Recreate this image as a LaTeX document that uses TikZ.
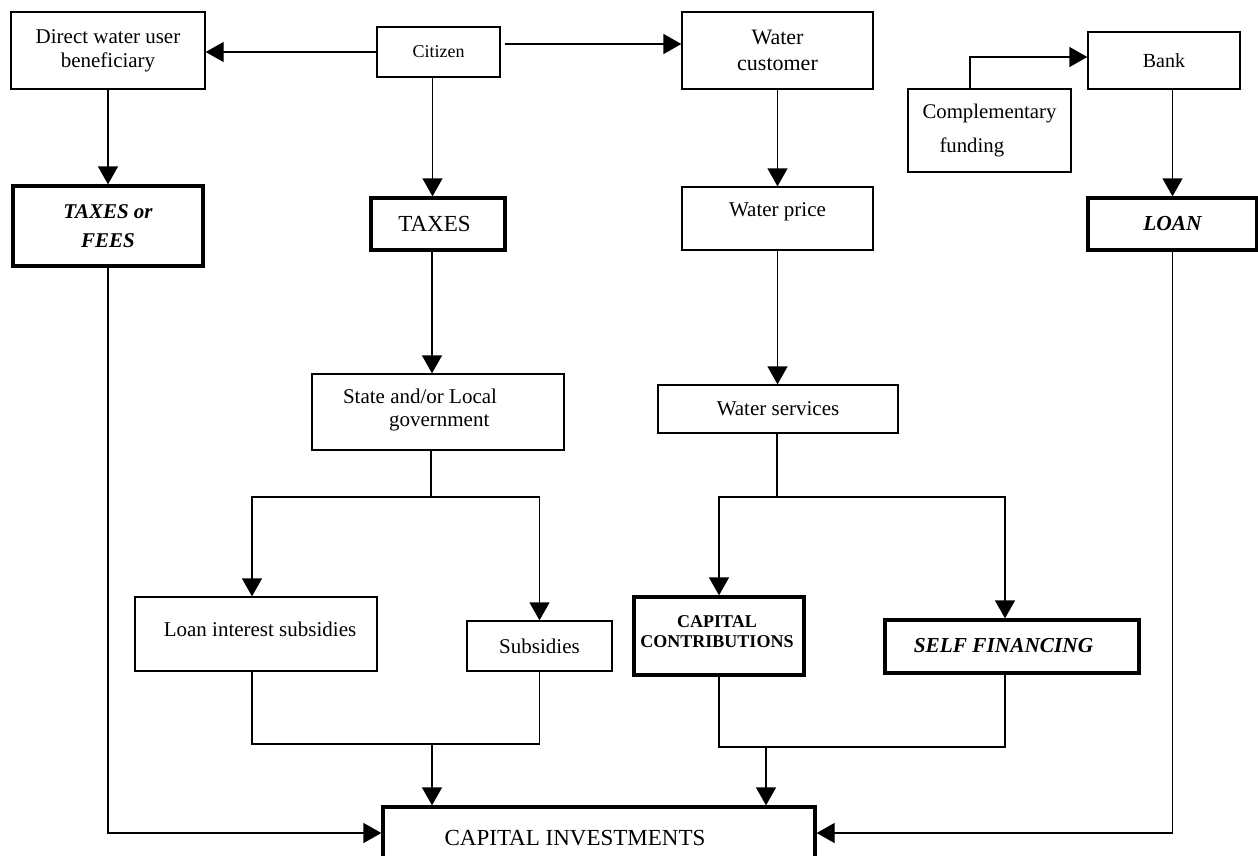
\documentclass[tikz,border=0pt]{standalone}
\usepackage{fontspec}
\setmainfont{Liberation Serif}
\usetikzlibrary{arrows.meta}
\newcommand\fsz[2]{\fontsize{#1}{#2}\selectfont}
\begin{document}
\begin{tikzpicture}[x=1pt,y=-1pt,
  box/.style={draw, line width=1.3pt, inner sep=0pt},
  tbox/.style={draw, line width=3.3pt, inner sep=0pt},
  txt/.style={inner sep=0pt, font=\fsz{21}{24}},
  conn/.style={line width=1.3pt},
  arr/.style={line width=1.3pt, -{Triangle[length=18pt,width=20pt]}}]
\useasboundingbox (0,0) rectangle (1258,856);
\clip (0,0) rectangle (1258,856);
% boxes with centred text
\node[box, minimum width=194pt, minimum height=77pt, align=center, font=\fsz{21}{24}] (direct) at (108,50.5) {Direct water user\\beneficiary};
\node[box, minimum width=123pt, minimum height=50pt, font=\fsz{18}{21}] (citizen) at (438.5,52) {Citizen};
\node[box, minimum width=191pt, minimum height=77pt, align=center, font=\fsz{22}{26}] (wcust) at (777.5,50.5) {Water\\customer};
\node[box, minimum width=152pt, minimum height=57pt, font=\fsz{20}{24}] (bank) at (1164,60.5) {Bank};
\node[box, minimum width=163pt, minimum height=83pt, align=left, font=\fsz{20.8}{34}] (compl) at (989.5,130.5) {Complementary\\\hspace*{17pt}funding};
\node[tbox, minimum width=190pt, minimum height=80pt, align=center, font=\fsz{21}{29}\bfseries\itshape] (taxfees) at (108,226) {TAXES or\\FEES};
\node[tbox, minimum width=169pt, minimum height=52pt, font=\fsz{21.4}{25}\bfseries\itshape] (loan) at (1172.5,224) {LOAN};
\node[box, minimum width=240pt, minimum height=48pt, font=\fsz{21}{24}] (wserv) at (778,409) {Water services};
\node[box, minimum width=145pt, minimum height=50pt, font=\fsz{21}{24}] (subs) at (539.5,646) {Subsidies};
% boxes with offset text
\node[tbox, minimum width=134pt, minimum height=52pt] (taxes) at (438,224) {};
\node[txt, font=\fsz{23}{27}] (taxes-t) at (434.5,224) {TAXES};
\node[box, minimum width=191pt, minimum height=63pt] (wprice) at (777.5,218.5) {};
\node[txt] (wprice-t) at (777.5,212) {Water price};
\node[box, minimum width=252pt, minimum height=76pt] (state) at (438,412) {};
\node[txt, align=left, font=\fsz{21}{23}] (state-t) at (420,410) {State and/or Local\\\hspace*{46pt}government};
\node[box, minimum width=242pt, minimum height=74pt] (loanint) at (256,634) {};
\node[txt] (loanint-t) at (260,629) {Loan interest subsidies};
\node[tbox, minimum width=170pt, minimum height=78pt] (capcontrib) at (719,636) {};
\node[txt, align=center, font=\fsz{18}{20}\bfseries] (capcontrib-t) at (717,632) {CAPITAL\\CONTRIBUTIONS};
\node[tbox, minimum width=254pt, minimum height=53pt] (selffin) at (1012,646.5) {};
\node[txt, font=\fsz{21.3}{25}\bfseries\itshape] (selffin-t) at (1003.5,646) {SELF FINANCING};
\node[tbox, minimum width=432pt, minimum height=62pt] (ci) at (599,838) {};
\node[txt, font=\fsz{23}{27}] (ci-t) at (575,838) {CAPITAL INVESTMENTS};
% helper coordinates
\coordinate (ssplit) at (431,497);
\coordinate (wsplit) at (777,497);
\coordinate (ljoin) at (432,744);
\coordinate (rjoin) at (766,747);
\coordinate (citS) at ([xshift=-6pt]citizen.south);
\coordinate (taxS) at ([xshift=-6pt]taxes.south);
\coordinate (citE) at ([xshift=4pt,yshift=8pt]citizen.east);
\coordinate (complN) at ([xshift=-19.5pt]compl.north);
\coordinate (bankW) at ([yshift=3.5pt]bank.west);
\coordinate (liN) at ([xshift=-4pt]loanint.north);
\coordinate (liS) at ([xshift=-4pt]loanint.south);
\coordinate (sfN) at ([xshift=-7pt]selffin.north);
\coordinate (sfS) at ([xshift=-7pt]selffin.south);
% connectors
\draw[arr] (citizen.west) -- (citizen.west -| direct.east);
\draw[arr] (citE) -- (citE -| wcust.west);
\draw[arr] (citS) -- (citS |- taxes.north);
\draw[arr] (direct.south) -- (direct.south |- taxfees.north);
\draw[arr] (wcust.south) -- (wprice.north);
\draw[arr] (wprice.south) -- (wprice.south |- wserv.north);
\draw[arr] (complN) |- (bankW);
\draw[arr] (loan.north |- bank.south) -- (loan.north);
\draw[arr] (taxS) -- (taxS |- state.north);
\draw[conn] (ssplit |- state.south) -- (ssplit);
\draw[arr] (ssplit) -| (liN);
\draw[arr] (ssplit) -| (subs.north);
\draw[conn] (wsplit |- wserv.south) -- (wsplit);
\draw[arr] (wsplit) -| (capcontrib.north);
\draw[arr] (wsplit) -| (sfN);
\draw[conn] (liS) |- (subs.south |- ljoin) -- (subs.south);
\draw[arr] (ljoin) -- (ljoin |- ci.north);
\draw[conn] (capcontrib.south) |- (sfS |- rjoin) -- (sfS);
\draw[arr] (rjoin) -- (rjoin |- ci.north);
\draw[arr] (taxfees.south) |- ([yshift=5pt]ci.west);
\draw[arr] (loan.south) |- ([yshift=5pt]ci.east);
\end{tikzpicture}
\end{document}
